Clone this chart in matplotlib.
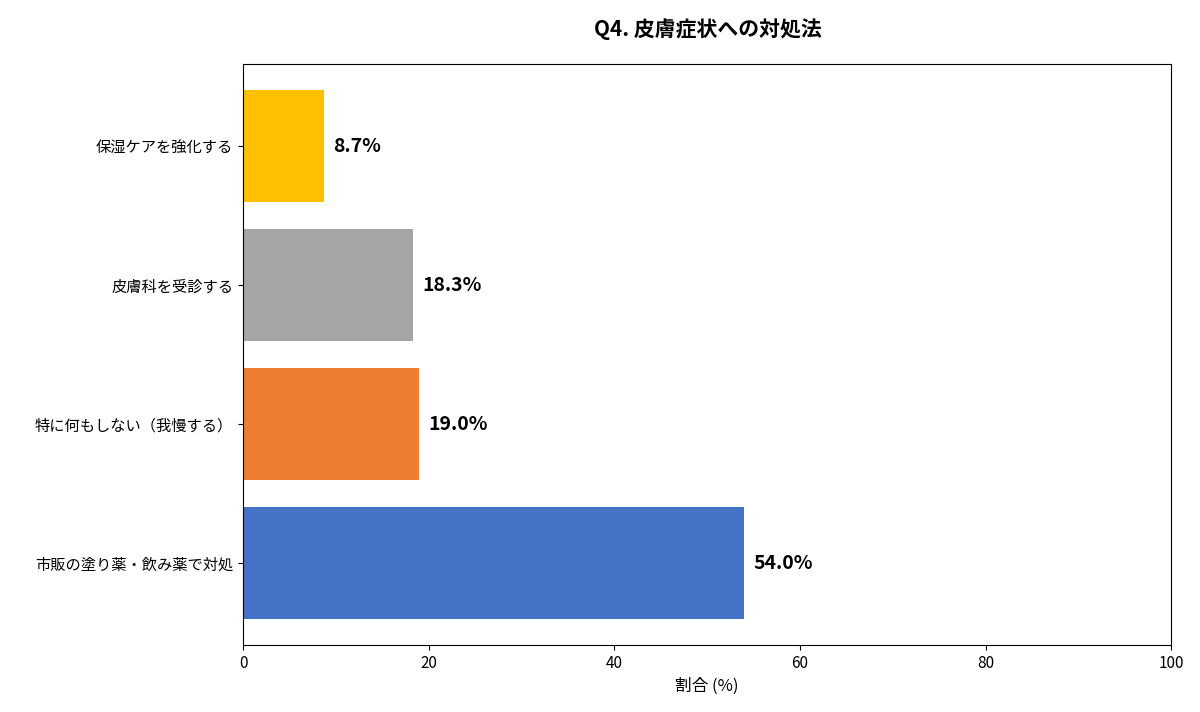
import matplotlib
matplotlib.use("Agg")
import matplotlib.pyplot as plt

plt.rcParams['font.family'] = ['Noto Sans CJK JP', 'DejaVu Sans']

categories = ["市販の塗り薬・飲み薬で対処", "特に何もしない（我慢する）", "皮膚科を受診する", "保湿ケアを強化する"]
values = [54.0, 19.0, 18.3, 8.7]
colors = ["#4472C4", "#ED7D31", "#A5A5A5", "#FFC000"]

fig = plt.figure(figsize=(12, 7.12), dpi=100)
ax = fig.add_axes([0.2025, 0.094, 0.7735, 0.816])
bars = ax.barh(categories, values, color=colors, height=0.8)
for b, v in zip(bars, values):
    ax.text(v + 1, b.get_y() + b.get_height() / 2, f"{v:.1f}%", va="center", ha="left",
            fontsize=14, fontweight="bold")
ax.set_xlim(0, 100)
ax.set_xlabel("割合 (%)", fontsize=12)
ax.tick_params(axis="x", labelsize=11)
ax.tick_params(axis="y", labelsize=11)
fig.suptitle("Q4. 皮膚症状への対処法", x=0.59, y=0.975, fontsize=15, fontweight="bold")
fig.savefig("out.png", dpi=100)
